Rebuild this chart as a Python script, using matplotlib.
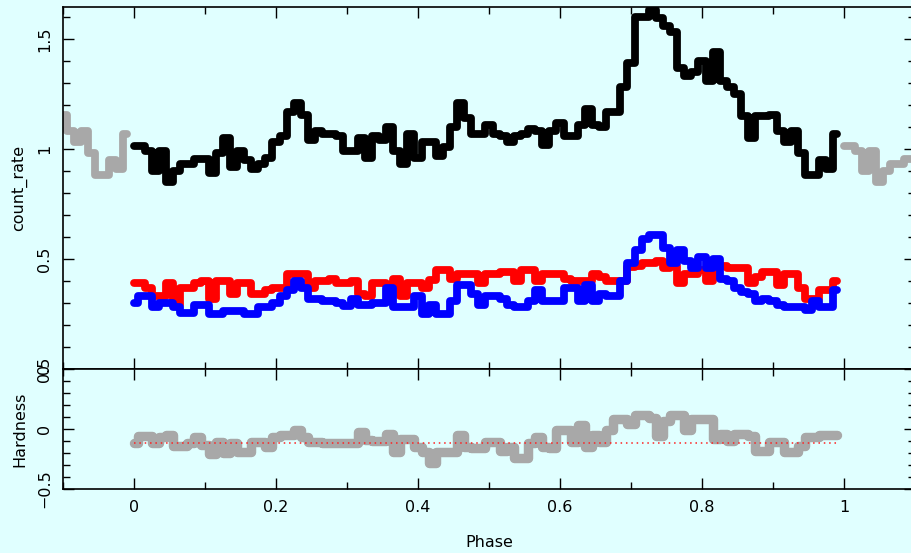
import numpy as np
import matplotlib
matplotlib.use("Agg")
import matplotlib.pyplot as plt
from matplotlib.ticker import MultipleLocator, FuncFormatter

phase = [i / 100 for i in range(100)]

total_rate = [1.015, 1.015, 0.99, 0.90, 0.99, 0.85, 0.90, 0.93, 0.93, 0.955,
              0.955, 0.89, 0.98, 1.05, 0.92, 0.99, 0.95, 0.91, 0.93, 0.96,
              1.03, 1.06, 1.17, 1.21, 1.155, 1.04, 1.08, 1.07, 1.07, 1.06,
              0.99, 0.99, 1.05, 0.96, 1.06, 1.04, 1.10, 0.99, 0.93, 1.07,
              0.96, 1.03, 1.03, 0.97, 1.01, 1.10, 1.21, 1.14, 1.07, 1.07,
              1.11, 1.07, 1.06, 1.03, 1.06, 1.07, 1.09, 1.08, 1.02, 1.08,
              1.12, 1.06, 1.06, 1.11, 1.18, 1.11, 1.10, 1.17, 1.17, 1.28,
              1.39, 1.60, 1.60, 1.63, 1.595, 1.56, 1.53, 1.37, 1.33, 1.35,
              1.40, 1.31, 1.44, 1.31, 1.28, 1.25, 1.15, 1.05, 1.15, 1.15,
              1.155, 1.08, 1.03, 1.08, 0.98, 0.88, 0.88, 0.95, 0.91, 1.07]

soft_rate = [0.39, 0.39, 0.37, 0.33, 0.33, 0.39, 0.29, 0.37, 0.37, 0.39,
             0.40, 0.32, 0.40, 0.40, 0.34, 0.39, 0.39, 0.34, 0.34, 0.36,
             0.37, 0.37, 0.43, 0.43, 0.43, 0.37, 0.40, 0.40, 0.41, 0.39,
             0.39, 0.40, 0.34, 0.33, 0.39, 0.39, 0.38, 0.41, 0.33, 0.39,
             0.39, 0.37, 0.405, 0.45, 0.45, 0.41, 0.43, 0.43, 0.43, 0.39,
             0.43, 0.43, 0.44, 0.44, 0.40, 0.45, 0.45, 0.40, 0.43, 0.43,
             0.43, 0.41, 0.40, 0.40, 0.40, 0.43, 0.42, 0.40, 0.40, 0.40,
             0.465, 0.47, 0.48, 0.48, 0.49, 0.46, 0.47, 0.39, 0.43, 0.43,
             0.45, 0.40, 0.47, 0.47, 0.46, 0.46, 0.46, 0.39, 0.42, 0.44,
             0.44, 0.38, 0.43, 0.43, 0.37, 0.32, 0.32, 0.36, 0.36, 0.40]

hard_rate = [0.30, 0.33, 0.33, 0.28, 0.30, 0.30, 0.28, 0.255, 0.255, 0.29,
             0.29, 0.25, 0.25, 0.265, 0.265, 0.265, 0.25, 0.25, 0.28, 0.28,
             0.30, 0.33, 0.36, 0.40, 0.37, 0.32, 0.32, 0.31, 0.31, 0.30,
             0.285, 0.32, 0.29, 0.29, 0.30, 0.30, 0.37, 0.28, 0.28, 0.28,
             0.33, 0.25, 0.29, 0.25, 0.25, 0.31, 0.38, 0.38, 0.34, 0.29,
             0.33, 0.33, 0.32, 0.29, 0.28, 0.28, 0.31, 0.36, 0.31, 0.31,
             0.31, 0.37, 0.37, 0.31, 0.38, 0.31, 0.34, 0.33, 0.33, 0.40,
             0.48, 0.54, 0.59, 0.61, 0.61, 0.55, 0.48, 0.54, 0.49, 0.46,
             0.51, 0.46, 0.50, 0.41, 0.40, 0.37, 0.35, 0.34, 0.31, 0.32,
             0.31, 0.29, 0.28, 0.28, 0.28, 0.27, 0.31, 0.28, 0.28, 0.36]

hardness = [-0.12, -0.06, -0.06, -0.12, -0.07, -0.05, -0.14, -0.14, -0.12, -0.07,
            -0.13, -0.21, -0.11, -0.20, -0.12, -0.19, -0.19, -0.11, -0.11, -0.15,
            -0.07, -0.05, -0.05, -0.01, -0.07, -0.11, -0.11, -0.12, -0.12, -0.12,
            -0.12, -0.12, -0.025, -0.09, -0.10, -0.10, -0.04, -0.19, -0.08, -0.08,
            -0.15, -0.19, -0.28, -0.19, -0.19, -0.19, -0.05, -0.15, -0.16, -0.16,
            -0.11, -0.11, -0.18, -0.15, -0.24, -0.24, -0.12, -0.07, -0.15, -0.16,
            -0.01, -0.01, -0.11, 0.03, -0.15, -0.05, -0.11, -0.01, 0.08, 0.08,
            0.04, 0.12, 0.12, 0.09, -0.06, 0.07, 0.12, 0.12, -0.01, 0.08,
            0.08, 0.08, -0.08, -0.04, -0.10, -0.04, -0.04, -0.06, -0.18, -0.18,
            -0.11, -0.11, -0.19, -0.19, -0.14, -0.07, -0.07, -0.05, -0.05, -0.05]

mean_hardness = -0.115

BG = "#e0ffff"
fig = plt.figure(figsize=(9.11, 5.53), dpi=100, facecolor=BG)
W, H = 911.0, 553.0
x0, x1 = 63, 915
ax1 = fig.add_axes([x0 / W, 1 - 369 / H, (x1 - x0) / W, (369 - 7) / H])
ax2 = fig.add_axes([x0 / W, 1 - 489 / H, (x1 - x0) / W, (489 - 369) / H])

lw = 5.6
common = dict(drawstyle="steps-mid", solid_capstyle="round", solid_joinstyle="round")

# wrapped parts outside 0..1
ph = np.array(phase)
tr = np.array(total_rate)
ax1.plot(ph[88:] - 1, tr[88:], color="#a8a8a8", lw=lw, **common)
ax1.plot(ph[:12] + 1, tr[:12], color="#a8a8a8", lw=lw, **common)
ax1.plot(phase, total_rate, color="black", lw=lw, **common)
ax1.plot(phase, soft_rate, color="#ff0000", lw=lw, **common)
ax1.plot(phase, hard_rate, color="#0000ff", lw=lw, **common)

ax2.plot(phase, hardness, color="#a8a8a8", lw=6.8, zorder=2, **common)
ax2.plot([phase[0], phase[-1]], [mean_hardness, mean_hardness], color="#ff2020",
         lw=1.1, linestyle=(0, (1, 2.5)), zorder=3)

fmt = FuncFormatter(lambda v, p: ("%g" % v).replace("-", "\u2212"))
for ax in (ax1, ax2):
    ax.set_facecolor(BG)
    ax.set_xlim(-0.1, 1.1)
    ax.xaxis.set_major_locator(MultipleLocator(0.2))
    ax.xaxis.set_minor_locator(MultipleLocator(0.1))
    ax.yaxis.set_major_locator(MultipleLocator(0.5))
    ax.yaxis.set_minor_locator(MultipleLocator(0.1))
    ax.tick_params(which="both", direction="in", top=True, right=True,
                   width=1.0, color="black", labelsize=11.5, pad=8)
    ax.tick_params(which="major", length=8)
    ax.tick_params(which="minor", length=5)
    ax.yaxis.set_major_formatter(fmt)
    ax.xaxis.set_major_formatter(fmt)
    for s in ax.spines.values():
        s.set_linewidth(1.2)
        s.set_color("black")

ax1.set_ylim(0, 1.645)
ax2.set_ylim(-0.5, 0.5)
ax1.tick_params(labelbottom=False)
for ax in (ax1, ax2):
    plt.setp(ax.get_yticklabels(), rotation=90, va="center")

ax1.set_ylabel("count_rate", fontsize=11.5, labelpad=7)
ax2.set_ylabel("Hardness", fontsize=11.5, labelpad=7)
ax2.set_xlabel("Phase", fontsize=11.5, labelpad=14)

fig.savefig("out.png", dpi=100, facecolor=BG)
